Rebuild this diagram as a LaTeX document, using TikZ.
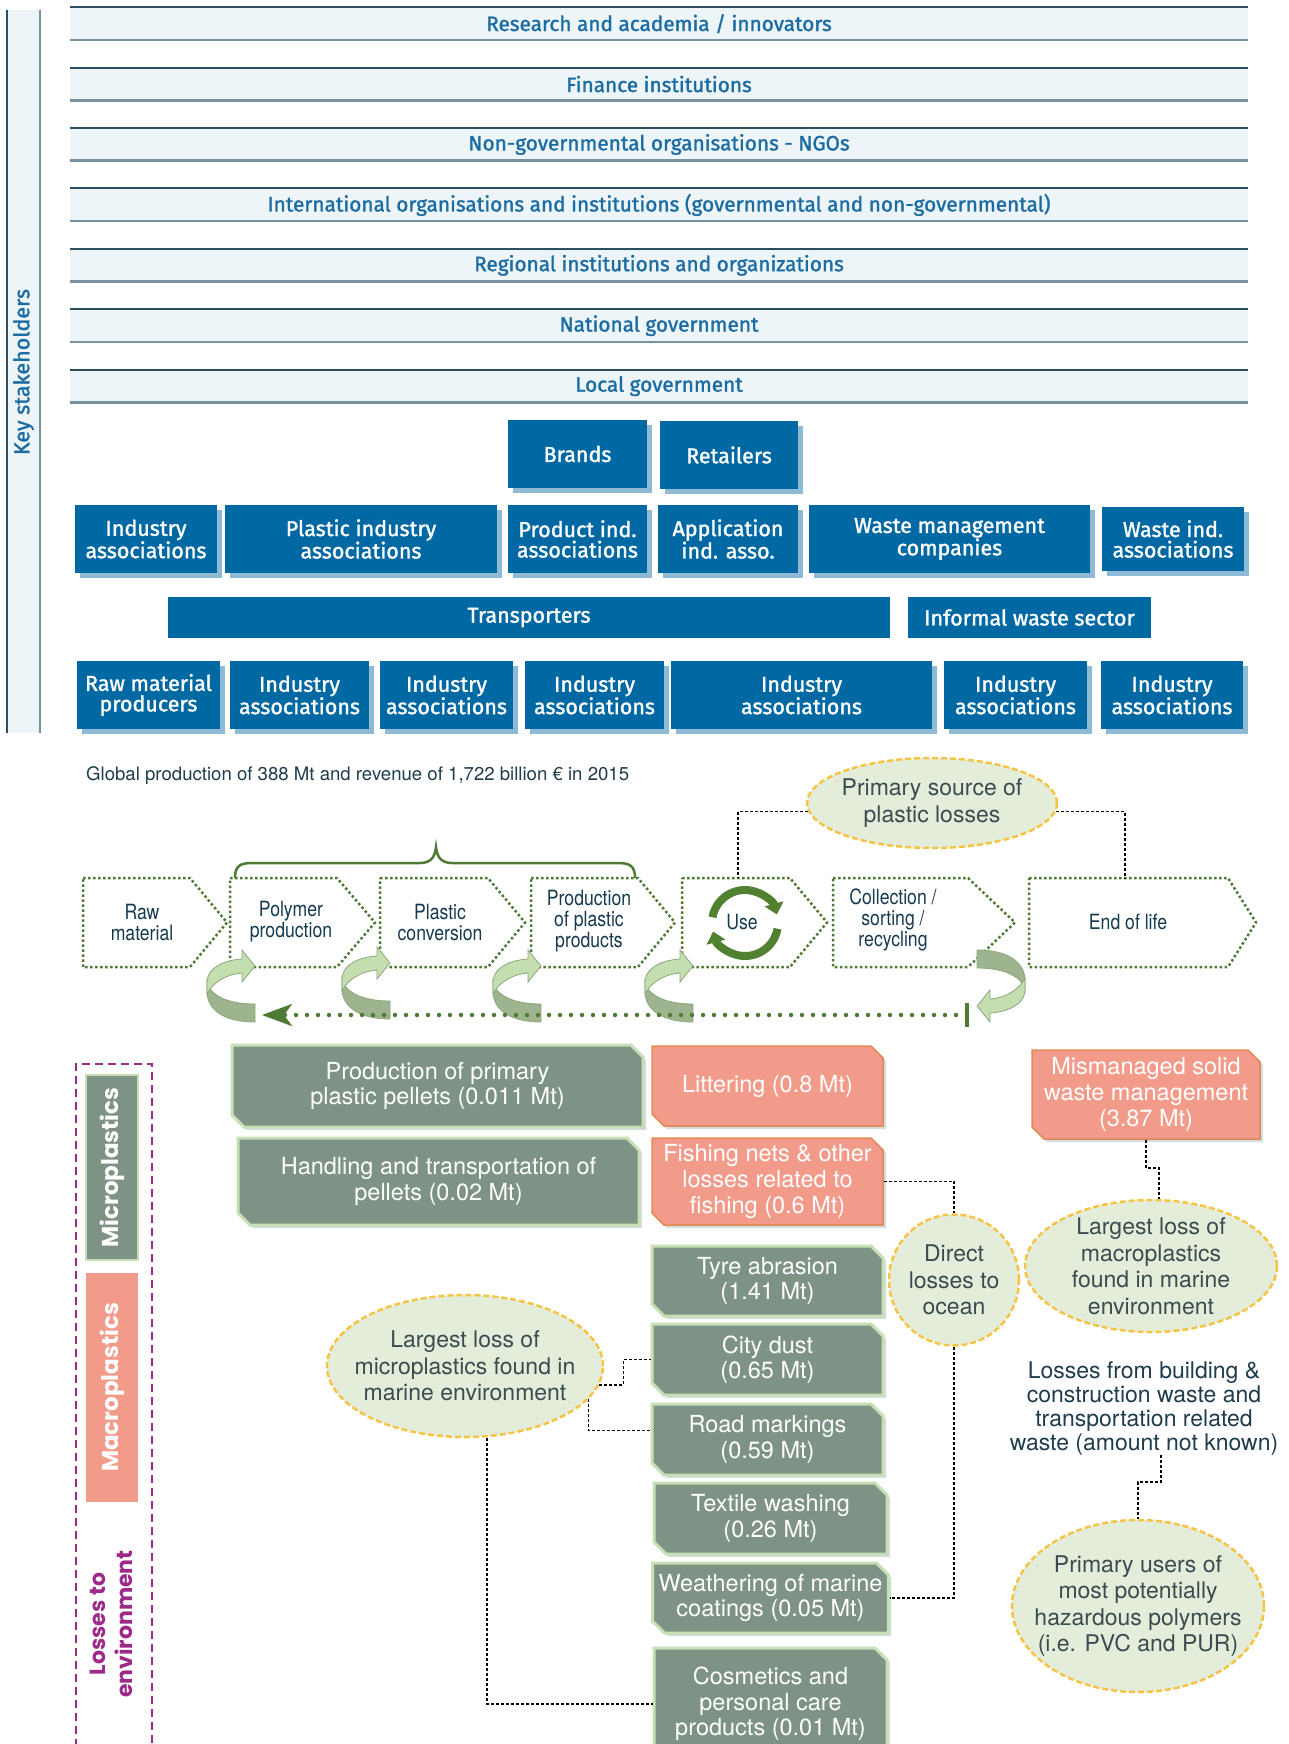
\documentclass[tikz,border=0pt]{standalone}
\usepackage{fontspec}
\setmainfont{TeX Gyre Heros}
\newfontfamily\rfont{Fira Sans}[FakeBold=1.4]
\newfontfamily\cnfont{TeX Gyre Heros}[FakeStretch=0.84]
\newfontfamily\geofont{Poppins}
\usepackage{tikz}
\usetikzlibrary{calc}
\usetikzlibrary{arrows.meta}
\usetikzlibrary{shapes.geometric,shapes.misc}

\definecolor{bandfill}{HTML}{EEF5F9}
\definecolor{bandtop}{HTML}{2B4F5E}
\definecolor{bandbot}{HTML}{7892A0}
\definecolor{bandtext}{HTML}{1A6CA2}
\definecolor{boxblue}{HTML}{0068A2}
\definecolor{boxshade}{HTML}{8EBAD5}
\definecolor{chevgreen}{HTML}{4E7A34}
\definecolor{chevtext}{HTML}{163A4F}
\definecolor{usegreen}{HTML}{4F8131}
\definecolor{loopdark}{HTML}{9DB48F}
\definecolor{looplight}{HTML}{C4DEB0}
\definecolor{loopline}{HTML}{8CA77D}
\definecolor{lossgray}{HTML}{7E9385}
\definecolor{lossedge}{HTML}{C7DFB4}
\definecolor{salmon}{HTML}{F29B8A}
\definecolor{salmonedge}{HTML}{E08A55}
\definecolor{ellfill}{HTML}{E3EDDA}
\definecolor{ellline}{HTML}{F6C445}
\definecolor{elltext}{HTML}{3C4B50}
\definecolor{lpurple}{HTML}{9D2A88}
\definecolor{slate}{HTML}{1F3C4B}
\definecolor{shadowgray}{HTML}{D3DEE2}

\tikzstyle{every node}=[inner sep=0]
\tikzstyle{band}=[fill=bandfill, minimum width=1178, minimum height=34, text=bandtext,
    font=\rfont\fontsize{20.8}{22}\selectfont,
    path picture={\draw[bandtop, line width=3] (path picture bounding box.north west) -- (path picture bounding box.north east);
                  \draw[bandbot, line width=4] (path picture bounding box.south west) -- (path picture bounding box.south east);}]
\tikzstyle{flat}=[fill=boxblue, text=white, align=center, font=\rfont\fontsize{21.5}{20.5}\selectfont]
\tikzstyle{stake}=[flat, preaction={fill=boxshade, transform canvas={shift={(5pt,-5pt)}}}]
\tikzstyle{chevline}=[chevgreen, line width=2.5, dash pattern=on 2.5pt off 2.5pt]
\tikzstyle{chevtext}=[text=chevtext, align=center, font=\cnfont\fontsize{21}{21}\selectfont]
\tikzstyle{loss}=[chamfered rectangle, chamfered rectangle corners={north east,south west},
    chamfered rectangle xsep=6, chamfered rectangle ysep=6, align=center, text=white, font=\fontsize{23.5}{25.6}\selectfont]
\tikzstyle{gbox}=[loss, fill=lossgray, draw=lossedge, line width=3,
    preaction={fill=shadowgray, transform canvas={shift={(3pt,-3pt)}}}]
\tikzstyle{sbox}=[loss, fill=salmon, draw=salmonedge, line width=1.5,
    preaction={fill=shadowgray, transform canvas={shift={(3pt,-3pt)}}}]
\tikzstyle{ell}=[ellipse, fill=ellfill, draw=ellline, line width=2.5, dash pattern=on 6pt off 3pt]
\tikzstyle{elltxt}=[text=elltext, align=center, font=\fontsize{23}{26.5}\selectfont]
\tikzstyle{conn}=[black, line width=1.5, dash pattern=on 3pt off 2pt]
\tikzstyle{side}=[rotate=90, text=white, font=\geofont\bfseries\fontsize{23}{24}\selectfont]

% recycling loop arrow, origin at the cut edge
\newcommand{\turnarrow}[2]{
    \begin{scope}[shift={(#1)}, rotate=#2]
        \filldraw[fill=loopdark, draw=loopline, line width=0.8] (0,17) .. controls (-28,17) and (-46,8) .. (-48,-6)
            -- (-48,7) .. controls (-46,25) and (-28,35) .. (0,35) -- cycle;
        \filldraw[fill=looplight, draw=loopline, line width=0.8] (-48,7) -- (-48,-6) .. controls (-47,-20) and (-30,-27) .. (-13,-28)
            -- (-13,-37) -- (0,-21) -- (-13,-5) -- (-13,-14) .. controls (-28,-13) and (-42,-5) .. (-48,7) -- cycle;
    \end{scope}
}
\newcommand{\chevron}[3]{\draw[chevline] (#1,878) -- (#2,878) -- (#3,922.5) -- (#2,967) -- (#1,967) -- cycle;}

\begin{document}
\begin{tikzpicture}[x=1pt,y=-1pt,>=latex]
    \useasboundingbox (0,0) rectangle (1288,1744);
    \clip (0,0) rectangle (1288,1744);

    % key stakeholders
    \fill[bandfill] (6,10) rectangle (41,733);
    \draw[bandtop, line width=1.5] (6.8,10) -- (6.8,733);
    \draw[bandbot, line width=2] (40,10) -- (40,733);
    \node[rotate=90, text=bandtext, font=\rfont\fontsize{21.5}{22}\selectfont] (keys) at (23.5,372) {Key stakeholders};

    \node[band] (research) at (659,23.7) {Research and academia / innovators};
    \node[band] (finance) at (659,84.1) {Finance institutions};
    \node[band] (ngo) at (659,144.5) {Non-governmental organisations - NGOs};
    \node[band] (intl) at (659,204.9) {International organisations and institutions (governmental and non-governmental)};
    \node[band] (regional) at (659,265.3) {Regional institutions and organizations};
    \node[band] (national) at (659,325.7) {National government};
    \node[band] (local) at (659,386.1) {Local government};

    \node[stake, minimum width=139, minimum height=68] (brands) at (577.5,454) {Brands};
    \node[stake, minimum width=138, minimum height=68] (retail) at (729,455) {Retailers};

    \node[stake, minimum width=142, minimum height=68] (indA) at (146,539) {Industry\\associations};
    \node[stake, minimum width=272, minimum height=68] (plastind) at (361,539) {Plastic industry\\associations};
    \node[stake, minimum width=139, minimum height=68] (prodind) at (577.5,539) {Product ind.\\associations};
    \node[stake, minimum width=140, minimum height=68] (appind) at (728,539) {Application\\ind. asso.};
    \node[stake, minimum width=281, minimum height=68] (wastemgmt) at (949.5,539) {Waste management\\companies};
    \node[stake, minimum width=142, minimum height=64] (wasteind) at (1173,539) {Waste ind.\\associations};

    \node[flat, minimum width=722, minimum height=41] (transp) at (529,617.5) {Transporters};
    \node[flat, minimum width=243, minimum height=41] (informal) at (1029.5,617.5) {Informal waste sector};

    \node[stake, minimum width=143, minimum height=68] (rawprod) at (148.5,695) {Raw material\\producers};
    \node[stake, minimum width=139, minimum height=68] (indB) at (299.5,695) {Industry\\associations};
    \node[stake, minimum width=133, minimum height=68] (indC) at (446.5,695) {Industry\\associations};
    \node[stake, minimum width=139, minimum height=68] (indD) at (594.5,695) {Industry\\associations};
    \node[stake, minimum width=261, minimum height=68] (indE) at (801.5,695) {Industry\\associations};
    \node[stake, minimum width=143, minimum height=68] (indF) at (1015.5,695) {Industry\\associations};
    \node[stake, minimum width=142, minimum height=68] (indG) at (1172,695) {Industry\\associations};

    % value chain
    \node[anchor=west, text=slate, font=\fontsize{18.6}{20}\selectfont] (global) at (86,776)
        {Global production of 388 Mt and revenue of 1,722 billion € in 2015};

    \chevron{83}{190}{227}
    \chevron{230}{337}{375}
    \chevron{380}{488}{525}
    \chevron{531}{638}{675}
    \chevron{682}{790}{827}
    \chevron{833}{968}{1015}
    \chevron{1029}{1228}{1256}

    \node[chevtext] (raw) at (142,922) {Raw\\material};
    \node[chevtext] (polymer) at (291,922) {Polymer\\production};
    \node[chevtext] (conv) at (440,922) {Plastic\\conversion};
    \node[chevtext] (prodpl) at (589,921) {Production\\of plastic\\products};
    \node[chevtext] (use) at (742,922) {Use};
    \node[chevtext] (collect) at (893,920) {Collection /\\sorting /\\recycling};
    \node[chevtext] (eol) at (1128,922) {End of life};

    \draw[usegreen, line width=8, -{Triangle[length=11pt,width=19pt]}] ([shift={(190:33)}]745,923) arc[start angle=190, end angle=345, radius=33];
    \draw[usegreen, line width=8, -{Triangle[length=11pt,width=19pt]}] ([shift={(10:33)}]745,923) arc[start angle=10, end angle=165, radius=33];

    \draw[chevgreen, line width=2.5] (235,878) .. controls (235,866) and (240,863) .. (252,863) -- (420,863)
        .. controls (430,863) and (435,858) .. (436,847) .. controls (437,858) and (442,863) .. (452,863)
        -- (618,863) .. controls (630,863) and (635,866) .. (635,878);

    \node[ell, minimum width=250, minimum height=90, label={[elltxt]center:{Primary source of\\plastic losses}}] (primsrc) at (932,803) {};
    \coordinate (usetop) at (738,878);
    \coordinate (eoltop) at (1125,878);
    \draw[conn] (primsrc.184) -| (usetop);
    \draw[conn] (primsrc.-4) -| (eoltop);

    \turnarrow{255,987}{0}
    \turnarrow{390,984}{0}
    \turnarrow{541,987}{0}
    \turnarrow{693,987}{0}
    \turnarrow{977,985}{180}

    \coordinate (rtick) at (967,1015);
    \coordinate (rhead) at (262,1015);
    \draw[chevgreen, line width=4] (967,1003) -- (967,1027);
    \draw[chevgreen, line width=4.5, line cap=round, dash pattern=on 0pt off 11pt,
        -{Stealth[length=30pt,width=22pt,inset=8pt]}] (rtick) -- (rhead);

    % losses to environment
    \draw[lpurple, line width=2.5, dash pattern=on 8pt off 5pt] (76,1760) -- (76,1064) -- (152,1064) -- (152,1760);
    \node[side, fill=lossgray, draw=lossedge, line width=2, minimum width=185, minimum height=52] (micro) at (112,1167.5) {Microplastics};
    \node[side, fill=salmon, minimum width=229, minimum height=52] (macro) at (112,1387.5) {Macroplastics};
    \node[side, text=lpurple, align=center, font=\geofont\bfseries\fontsize{22}{27}\selectfont] (losses) at (111,1624) {Losses to\\environment};

    \node[gbox, minimum width=411, minimum height=82] (pellet) at (437.5,1086) {Production of primary\\plastic pellets (0.011 Mt)};
    \node[gbox, minimum width=401, minimum height=87] (handling) at (438.5,1181.5) {Handling and transportation of\\pellets (0.02 Mt)};
    \node[sbox, minimum width=231, minimum height=80] (litter) at (767.5,1086) {Littering (0.8 Mt)};
    \node[sbox, minimum width=231, minimum height=87] (fishing) at (767.5,1181.5) {Fishing nets \& other\\losses related to\\fishing (0.6 Mt)};
    \node[sbox, minimum width=228, minimum height=89] (mismgmt) at (1146,1094.5) {Mismanaged solid\\waste management\\(3.87 Mt)};

    \node[gbox, minimum width=231, minimum height=70] (tyre) at (767.5,1281) {Tyre abrasion\\(1.41 Mt)};
    \node[gbox, minimum width=231, minimum height=71] (dust) at (767.5,1359.5) {City dust\\(0.65 Mt)};
    \node[gbox, minimum width=231, minimum height=71] (road) at (767.5,1439.5) {Road markings\\(0.59 Mt)};
    \node[gbox, minimum width=233, minimum height=71] (textile) at (770.5,1518.5) {Textile washing\\(0.26 Mt)};
    \node[gbox, minimum width=233, minimum height=70] (weather) at (770.5,1598) {Weathering of marine\\coatings (0.05 Mt)};
    \node[gbox, minimum width=233, minimum height=112] (cosmetic) at (770.5,1704) {Cosmetics and\\personal care\\products (0.01 Mt)};

    \node[ell, minimum width=130, minimum height=131, label={[elltxt]center:{Direct\\losses to\\ocean}}] (direct) at (954,1280) {};
    \node[ell, minimum width=252, minimum height=132, label={[elltxt]center:{Largest loss of\\macroplastics\\found in marine\\environment}}] (macroloss) at (1151,1266) {};
    \node[ell, minimum width=276, minimum height=142, label={[elltxt]center:{Largest loss of\\microplastics found in\\marine environment}}] (microloss) at (465,1366) {};
    \node[ell, minimum width=252, minimum height=172, label={[elltxt]center:{Primary users of\\most potentially\\hazardous polymers\\(i.e. PVC and PUR)}}] (hazard) at (1138,1606) {};

    \node[align=center, text=slate, font=\fontsize{23}{23.7}\selectfont] (building) at (1144,1408.5)
        {Losses from building \&\\construction waste and\\transportation related\\waste (amount not known)};

    \draw[conn] (fishing.east) -| (direct.north);
    \draw[conn] (direct.south) |- (weather.east);
    \draw[conn] (mismgmt.south) -- ++(0,28) -| ([xshift=8]macroloss.north);
    \draw[conn] ([xshift=17]building.south) -- ++(0,27) -| (hazard.north);
    \draw[conn] (microloss.-8.6) -- ++(24,0) |- (dust.west);
    \draw[conn] (microloss.-15.7) |- ([yshift=9]road.west);
    \draw[conn] ([xshift=22]microloss.south) |- (cosmetic.west);
\end{tikzpicture}
\end{document}
